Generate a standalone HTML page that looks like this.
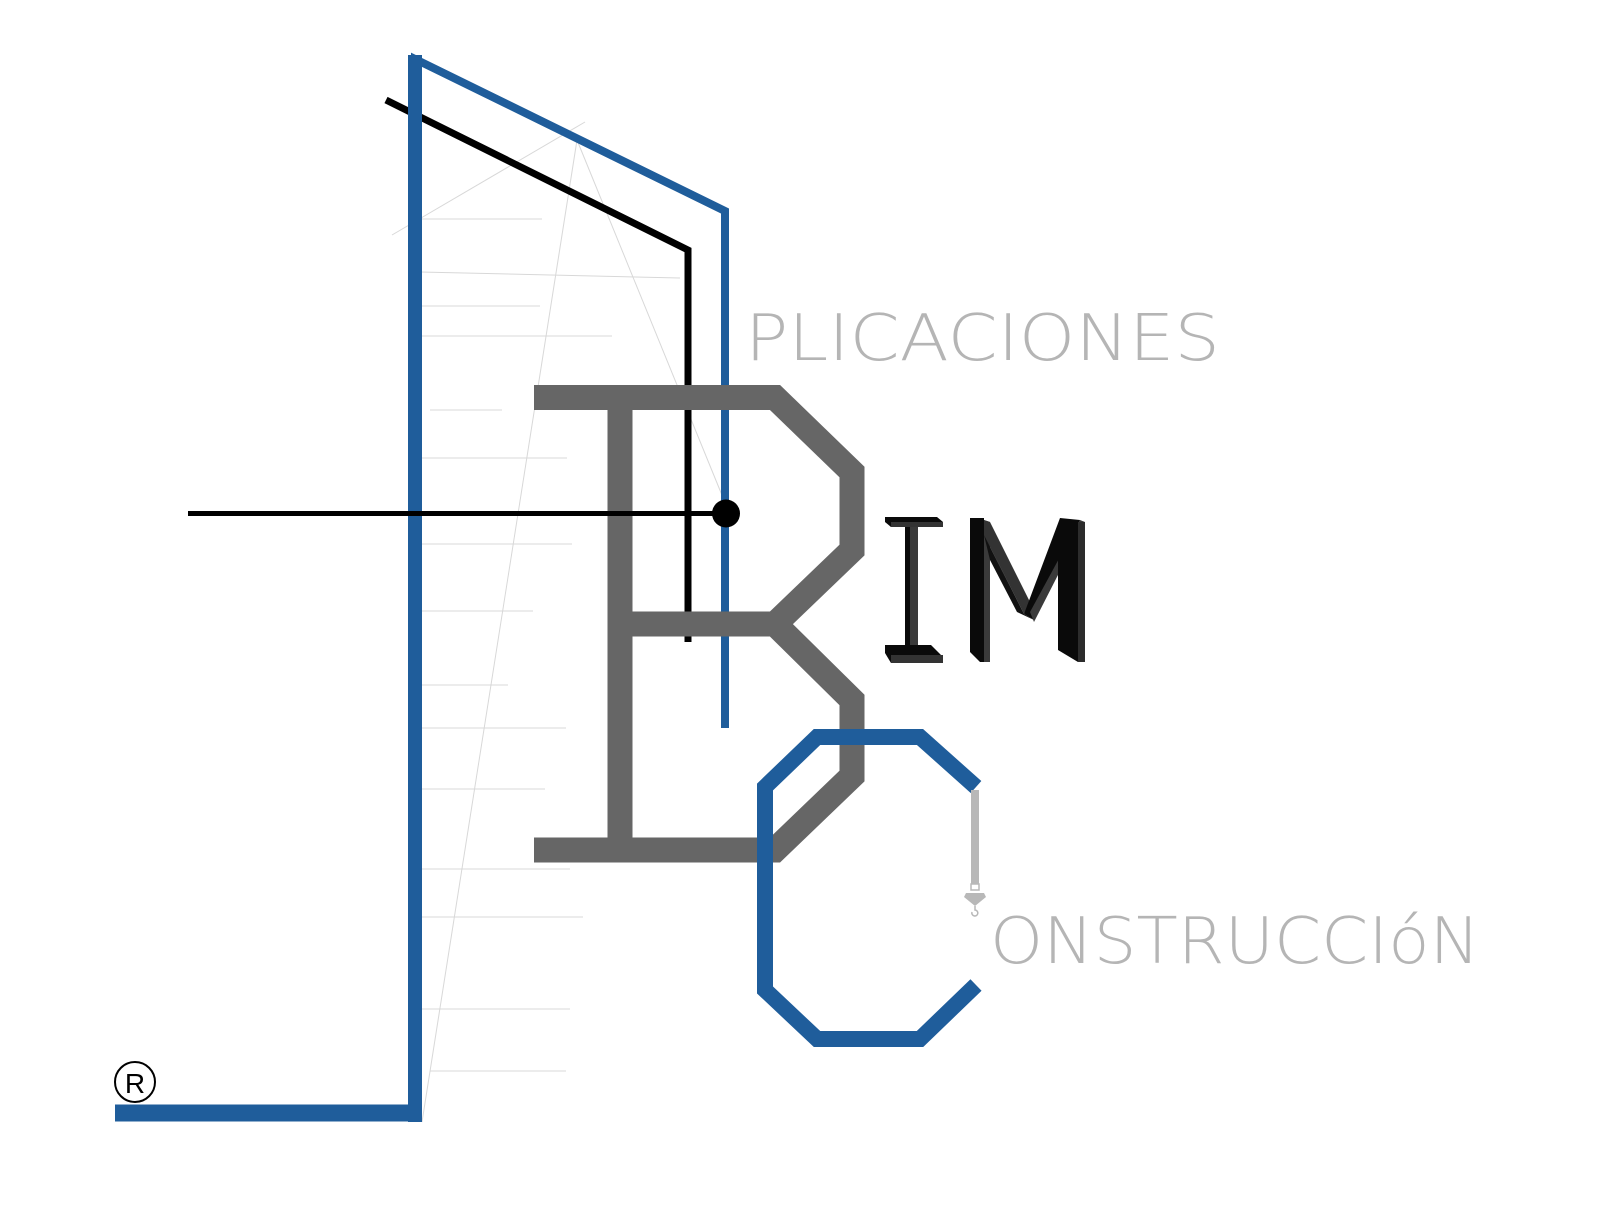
<!DOCTYPE html>
<html><head><meta charset="utf-8"><style>html,body{margin:0;padding:0;background:#fff}svg{display:block}</style></head>
<body>
<svg width="1600" height="1231" viewBox="0 0 1600 1231" xmlns="http://www.w3.org/2000/svg">
<rect width="1600" height="1231" fill="#fff"/>
<g stroke="#d8d8d8" stroke-width="1" fill="none">
<line x1="420" y1="219" x2="542" y2="219"/>
<line x1="420" y1="272" x2="680" y2="278"/>
<line x1="420" y1="306" x2="540" y2="306"/>
<line x1="420" y1="336" x2="612" y2="336"/>
<line x1="430" y1="410" x2="502" y2="410"/>
<line x1="420" y1="458" x2="567" y2="458"/>
<line x1="420" y1="544" x2="572" y2="544"/>
<line x1="415" y1="611" x2="533" y2="611"/>
<line x1="420" y1="685" x2="508" y2="685"/>
<line x1="420" y1="728" x2="566" y2="728"/>
<line x1="415" y1="789" x2="545" y2="789"/>
<line x1="420" y1="869" x2="570" y2="869"/>
<line x1="420" y1="917" x2="583" y2="917"/>
<line x1="420" y1="1009" x2="570" y2="1009"/>
<line x1="430" y1="1071" x2="566" y2="1071"/>
<line x1="392" y1="235" x2="585" y2="122"/>
<line x1="577" y1="140" x2="422" y2="1122"/>
<line x1="577" y1="140" x2="726" y2="505"/>
</g>
<polyline points="386,100 688,250 688,642" fill="none" stroke="#000" stroke-width="7"/>
<polyline points="725,728 725,211 415,59 415,1113 115,1113" fill="none" stroke="#1f5d9b" stroke-width="8"/>
<line x1="415" y1="55" x2="415" y2="1122" stroke="#1f5d9b" stroke-width="14"/>
<line x1="115" y1="1113" x2="422" y2="1113" stroke="#1f5d9b" stroke-width="17"/>
<g fill="none" stroke="#666" stroke-width="25" stroke-linejoin="miter">
<polyline points="534,397.5 775,397.5 852,472 852,550 775,624 852,700 852,776 775,850 534,850"/>
<line x1="620" y1="397" x2="620" y2="850"/>
<line x1="620" y1="624" x2="780" y2="624"/>
</g>
<line x1="188" y1="513.5" x2="726" y2="513.5" stroke="#000" stroke-width="5"/>
<circle cx="726" cy="513.5" r="14" fill="#000"/>
<polyline points="976,787 920,737 817,737 765,787 765,990 817,1039 920,1039 976,985" fill="none" stroke="#1f5d9b" stroke-width="16" stroke-linejoin="miter"/>
<line x1="975" y1="790" x2="975" y2="884" stroke="#b8b8b8" stroke-width="8"/>
<rect x="971" y="884" width="8" height="6" fill="none" stroke="#b8b8b8" stroke-width="1.5"/>
<path d="M966,893 L984,893 L986,897 L975,906 L964,897 Z" fill="#b8b8b8"/>
<path d="M975,906 L975,910 A3,3 0 1 1 972,912" fill="none" stroke="#b8b8b8" stroke-width="1.5"/>
<g>
<polygon points="885,517 937,517 943,522 943,527 891,527 885,522" fill="#0a0a0a"/>
<polygon points="891,522 943,522 943,527 891,527" fill="#333"/>
<polygon points="905,527 913,527 913,645 905,645" fill="#0a0a0a"/>
<polygon points="910,527 918,527 918,650 910,650" fill="#3a3a3a"/>
<polygon points="885,645 931,645 943,657 943,663 891,663 885,653" fill="#0a0a0a"/>
<polygon points="891,655 943,655 943,663 891,663" fill="#333"/>
<polygon points="970,518 984,518 984,662 980,662 970,652" fill="#0a0a0a"/>
<polygon points="984,520 990,522 990,662 984,662" fill="#3a3a3a"/>
<polygon points="984,520 990,522 1030,602 1024,614 984,535" fill="#333"/>
<polygon points="984,535 1024,614 1034,620 1017,612 990,560" fill="#111"/>
<polygon points="1060,518 1080,520 1034,620 1024,614" fill="#0a0a0a"/>
<polygon points="1080,520 1085,522 1034,622 1030,612" fill="#3a3a3a"/>
<polygon points="1058,545 1078,520 1078,662 1058,650" fill="#0a0a0a"/>
<polygon points="1078,522 1085,522 1085,662 1078,662" fill="#2c2c2c"/>
</g>
<text x="745" y="360" font-family="DejaVu Sans ExtraLight, DejaVu Sans, sans-serif" font-weight="200" font-size="64" fill="#b5b5b5" textLength="475" lengthAdjust="spacingAndGlyphs">PLICACIONES</text>
<text x="990" y="963" font-family="DejaVu Sans ExtraLight, DejaVu Sans, sans-serif" font-weight="200" font-size="64" fill="#b5b5b5" textLength="490" lengthAdjust="spacingAndGlyphs">ONSTRUCCIóN</text>
<circle cx="135" cy="1082" r="20" fill="none" stroke="#000" stroke-width="2"/>
<text x="135" y="1093" text-anchor="middle" font-family="Liberation Sans, sans-serif" font-size="28" fill="#000">R</text>
</svg>
</body></html>
